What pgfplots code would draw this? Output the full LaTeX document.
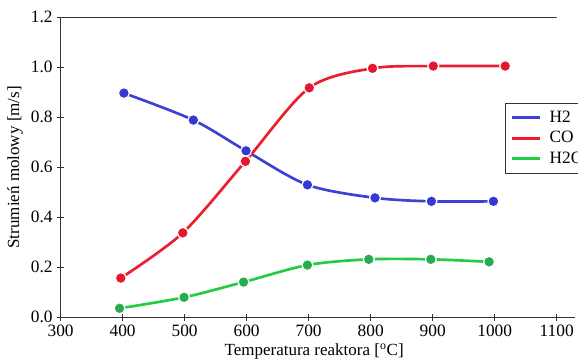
\documentclass[border=0pt]{standalone}
\usepackage{pgfplots}
\pgfplotsset{compat=1.18}
\usepackage{fontspec}
\setmainfont{Liberation Serif}
\definecolor{cblue}{RGB}{62,66,212}
\definecolor{cred}{RGB}{236,30,45}
\definecolor{cgreen}{RGB}{35,205,65}
\definecolor{mblue}{RGB}{52,58,208}
\definecolor{mred}{RGB}{230,22,48}
\definecolor{mgreen}{RGB}{38,172,78}
\definecolor{axc}{RGB}{50,50,50}
\begin{document}
\begin{tikzpicture}
\useasboundingbox (-45.5pt,-34.3pt) rectangle (388pt,238pt);
\clip (-45.5pt,-34.3pt) rectangle (388pt,238pt);
\begin{axis}[
  scale only axis,
  width=372pt, height=225pt,
  xmin=300, xmax=1100, ymin=0, ymax=1.2,
  axis x line*=bottom, axis y line*=left,
  axis line style={-, axc, line width=0.8pt},
  x axis line style={shorten >=-13.7pt},
  xtick={300,400,...,1100},
  ytick={0,0.2,...,1.2},
  tick align=center,
  major tick length=5pt,
  tick style={axc, line width=0.7pt},
  /pgf/number format/assume math mode=true,
  xticklabel style={/pgf/number format/1000 sep={}},
  yticklabel style={/pgf/number format/.cd, fixed, fixed zerofill, precision=1},
  ticklabel style={font=\fontsize{13}{14}\selectfont},
  label style={font=\fontsize{12.75}{14}\selectfont},
  xlabel={Temperatura reaktora [\textsuperscript{o}C]},
  ylabel={Strumień molowy [m/s]},
  xlabel style={at={(axis description cs:0.511,-0.126)}, anchor=base},
  ylabel style={at={(axis description cs:-0.092,0.5)}, anchor=center},
  legend style={at={(rel axis cs:0.8958,0.7153)}, anchor=north west,
    draw=axc, line width=0.7pt, fill=white,
    font=\fontsize{13}{14}\selectfont, row sep=1.5pt,
    inner xsep=4pt, inner ysep=3.5pt},
  legend cell align=left,
  legend image code/.code={\draw[#1, mark=none, line width=2.3pt] (0pt,0pt) -- (21pt,0pt); \path (25pt,0pt);},
]
\addplot[cblue, line width=2pt, smooth, mark=*, mark size=4.1pt,
  mark options={fill=mblue, draw=white, line width=0.9pt}]
  coordinates {(402,0.897) (514,0.789) (599,0.666) (698,0.530) (807,0.478) (898,0.464) (998,0.464)};
\addplot[cred, line width=2pt, smooth, mark=*, mark size=4.1pt,
  mark options={fill=mred, draw=white, line width=0.9pt}]
  coordinates {(397,0.157) (497,0.338) (598,0.624) (701,0.918) (803,0.996) (901,1.005) (1017,1.005)};
\addplot[cgreen, line width=2pt, smooth, mark=*, mark size=4.1pt,
  mark options={fill=mgreen, draw=white, line width=0.9pt}]
  coordinates {(395,0.036) (499,0.080) (595,0.141) (698,0.209) (797,0.232) (897,0.232) (991,0.222)};
\legend{H2, CO, H2O}
\draw[axc, line width=0.8pt] (rel axis cs:0,1) -- (rel axis cs:1,1);
\end{axis}
\end{tikzpicture}
\end{document}
